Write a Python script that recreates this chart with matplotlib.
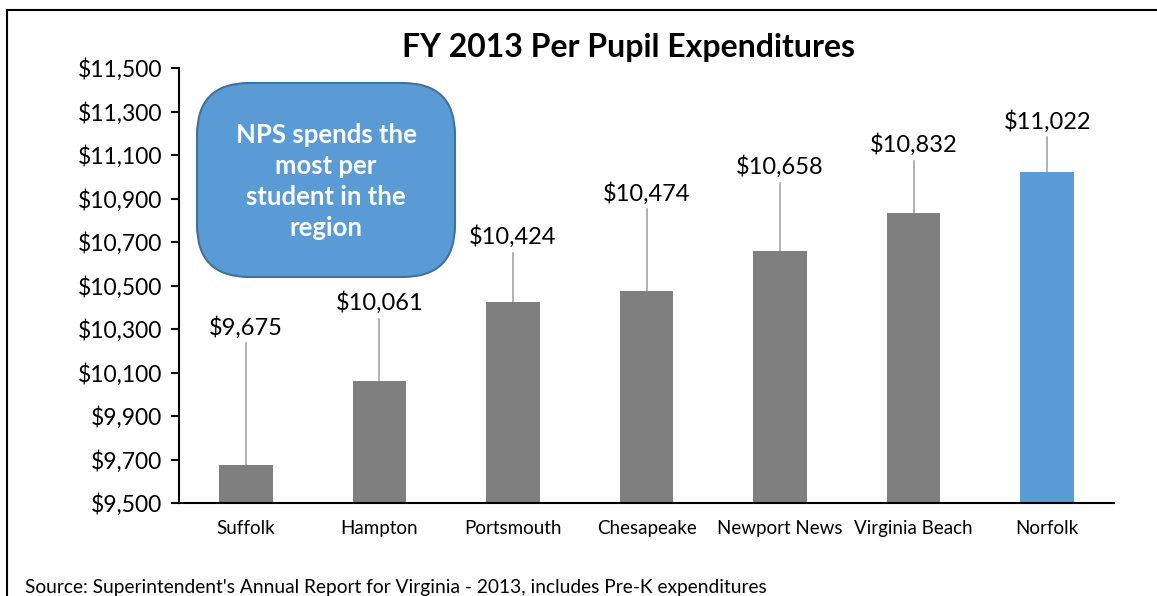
import matplotlib.pyplot as plt
from matplotlib.patches import FancyBboxPatch, Rectangle
from matplotlib.ticker import FuncFormatter

plt.rcParams['font.family'] = ['Lato', 'DejaVu Sans']

divisions = ['Suffolk', 'Hampton', 'Portsmouth', 'Chesapeake', 'Newport News', 'Virginia Beach', 'Norfolk']
spending = [9675, 10061, 10424, 10474, 10658, 10832, 11022]
label_heights = [10309, 10420, 10723, 10925, 11045, 11146, 11256]
bar_colors = ['#7F7F7F'] * 6 + ['#5B9BD5']
yticks = list(range(9500, 11501, 200))

fig = plt.figure(figsize=(11.57, 5.96), dpi=100)
ax = fig.add_axes([179 / 1157, 1 - 503 / 596, (1114 - 179) / 1157, (503 - 68) / 596])

x = range(len(divisions))
ax.bar(x, [v - 9500 for v in spending], bottom=9500, width=0.4, color=bar_colors, zorder=2)

# data labels with leader lines
for i, (v, ly) in enumerate(zip(spending, label_heights)):
    ax.plot([i, i], [v, ly - 72], color='#A6A6A6', lw=1.2, zorder=1)
    ax.text(i, ly, '${:,}'.format(v), ha='center', va='center', fontsize=17)

ax.set_xlim(-0.5, 6.5)
ax.set_ylim(9500, 11500)
ax.set_yticks(yticks)
ax.yaxis.set_major_formatter(FuncFormatter(lambda v, p: '${:,.0f}'.format(v)))
ax.set_xticks(list(x))
ax.set_xticklabels(divisions, fontsize=13.5)
ax.tick_params(axis='x', length=0, pad=12)
ax.tick_params(axis='y', length=6, width=1.5, labelsize=16.5, pad=6)
ax.spines['top'].set_visible(False)
ax.spines['right'].set_visible(False)
ax.spines['left'].set_linewidth(1.5)
ax.spines['bottom'].set_linewidth(1.5)

fig.text(628 / 1157, 1 - 47 / 596, 'FY 2013 Per Pupil Expenditures', ha='center', va='center',
         fontsize=23, fontweight='bold')

# callout box
box = FancyBboxPatch((197 / 1157, 1 - 277 / 596), (455 - 197) / 1157, (277 - 83) / 596,
                     boxstyle='round,pad=0,rounding_size=0.045', transform=fig.transFigure,
                     facecolor='#5B9BD5', edgecolor='#41719C', lw=1.5, mutation_aspect=1157 / 596)
fig.patches.append(box)
fig.text(326 / 1157, 1 - 182 / 596, 'NPS spends the\nmost per\nstudent in the\nregion', ha='center', va='center',
         color='white', fontsize=18.5, fontweight='bold', linespacing=1.35)

fig.text(25 / 1157, 1 - 588 / 596, "Source: Superintendent's Annual Report for Virginia - 2013, includes Pre-K expenditures",
         ha='left', va='center', fontsize=13.8)

# chart border
fig.patches.append(Rectangle((7 / 1157, -0.1), 1.2, 1.1 - 10 / 596, transform=fig.transFigure,
                             fill=False, edgecolor='black', lw=1.5))

fig.savefig('out.png', dpi=100)
